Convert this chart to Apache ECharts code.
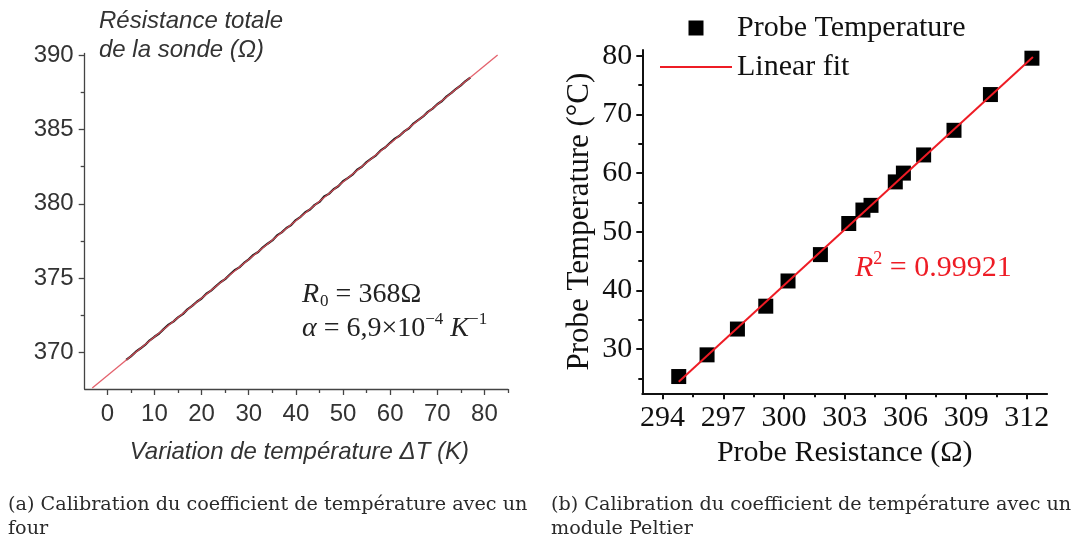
<!DOCTYPE html>
<html><head><meta charset="utf-8">
<script src="https://cdn.jsdelivr.net/npm/echarts@6/dist/echarts.min.js"></script>
<style>html,body{margin:0;padding:0;background:#fff}#c{width:1075px;height:542px}</style>
</head><body><div id="c"></div>
<script>
// ---------- (a) oven calibration ----------
const ovenDeltaT = [4,5,6,7,8,9,10,11,12,13,14,15,16,17,18,19,20,21,22,23,24,25,26,27,28,29,30,31,32,33,34,35,36,37,38,39,40,41,42,43,44,45,46,47,48,49,50,51,52,53,54,55,56,57,58,59,60,61,62,63,64,65,66,67,68,69,70,71,72,73,74,75,76,77];
const ovenResistance = [369.52,369.75,370.05,370.28,370.52,370.83,371.07,371.29,371.60,371.88,372.09,372.37,372.59,372.91,373.14,373.42,373.64,373.96,374.17,374.45,374.73,374.94,375.25,375.54,375.73,376.03,376.27,376.57,376.76,377.08,377.32,377.54,377.88,378.08,378.38,378.57,378.91,379.13,379.44,379.62,379.93,380.13,380.49,380.67,380.98,381.18,381.52,381.73,381.96,382.29,382.49,382.80,383.03,383.26,383.59,383.80,384.10,384.38,384.57,384.87,385.08,385.41,385.64,385.87,386.18,386.40,386.69,386.91,387.22,387.45,387.73,387.96,388.25,388.48];
const ovenFitDeltaT = [-3.2, 82.8];
const ovenFitResistance = [367.63, 390.0];
const ovenXTicks = [0,10,20,30,40,50,60,70,80];
const ovenXMinor = [5,15,25,35,45,55,65,75,85];
const ovenYTicks = [370,375,380,385,390];
const ovenYMinor = [372.5,377.5,382.5,387.5];

// ---------- (b) Peltier calibration ----------
const probeResistance = [294.8,296.2,297.7,299.1,300.2,301.8,303.2,303.9,304.3,305.5,305.9,306.9,308.4,310.2,312.25];
const probeTemperature = [25.3,29.0,33.4,37.3,41.6,46.1,51.4,53.7,54.5,58.5,60.0,63.1,67.3,73.4,79.6];
const fitResistance = [294.8, 312.3];
const fitTemperature = [24.4, 79.8];
const probeXTicks = [294,297,300,303,306,309,312];
const probeXMinor = [295.5,298.5,301.5,304.5,307.5,310.5];
const probeYTicks = [30,40,50,60,70,80];
const probeYMinor = [25,35,45,55,65,75];

const SANS = 'Liberation Sans';
const SERIF = 'Liberation Serif';
const RED = '#ee1c25';

function mainAxis(gridIndex, min, max, ticks, pos, style) {
  return {
    type: 'value', gridIndex, min, max, position: pos,
    axisLine: { show: true, onZero: false, lineStyle: { color: style.color, width: style.width } },
    axisTick: { show: true, inside: false, length: 6, customValues: ticks, lineStyle: { color: style.color, width: style.width } },
    axisLabel: { show: true, customValues: ticks, margin: style.margin, color: style.labelColor, fontFamily: style.font, fontSize: style.size },
    splitLine: { show: false }
  };
}
function minorAxis(gridIndex, min, max, ticks, pos, style) {
  return {
    type: 'value', gridIndex, min, max, position: pos,
    axisLine: { show: false, onZero: false },
    axisTick: { show: true, inside: false, length: 4, customValues: ticks, lineStyle: { color: style.color, width: style.width } },
    axisLabel: { show: false },
    splitLine: { show: false }
  };
}
const leftStyleX = { color: '#444', width: 1.3, margin: 13, labelColor: '#333', font: SANS, size: 24 };
const leftStyleY = { color: '#444', width: 1.3, margin: 11, labelColor: '#333', font: SANS, size: 24 };
const rightStyleX = { color: '#111', width: 2, margin: 10, labelColor: '#111', font: SERIF, size: 30 };
const rightStyleY = { color: '#111', width: 2, margin: 10, labelColor: '#111', font: SERIF, size: 30 };

const xA0 = mainAxis(0, -4.8, 85, ovenXTicks, 'bottom', leftStyleX);
xA0.name = 'Variation de température ΔT (K)';
xA0.nameLocation = 'middle';
xA0.nameGap = 51;
xA0.nameTextStyle = { fontFamily: SANS, fontStyle: 'italic', fontSize: 24, color: '#333', padding: [0, 0, 0, 6] };
const xA2 = mainAxis(1, 293, 313, probeXTicks, 'bottom', rightStyleX);
xA2.name = 'Probe Resistance (Ω)';
xA2.nameLocation = 'middle';
xA2.nameGap = 43;
xA2.nameTextStyle = { fontFamily: SERIF, fontSize: 30, color: '#111' };
const yA2 = mainAxis(1, 22.44, 81, probeYTicks, 'left', rightStyleY);
yA2.name = 'Probe Temperature (°C)';
yA2.nameLocation = 'middle';
yA2.nameGap = 47;
yA2.nameTextStyle = { fontFamily: SERIF, fontSize: 31, color: '#111' };

const option = {
  animation: false,
  backgroundColor: '#fff',
  grid: [
    { left: 84.7, top: 53.5, width: 423.3, height: 335.5 },
    { left: 642.3, top: 50, width: 404.8, height: 343.3 }
  ],
  xAxis: [
    xA0,
    minorAxis(0, -4.8, 85, ovenXMinor, 'bottom', leftStyleX),
    xA2,
    minorAxis(1, 293, 313, probeXMinor, 'bottom', rightStyleX)
  ],
  yAxis: [
    mainAxis(0, 367.56, 390.1, ovenYTicks, 'left', leftStyleY),
    minorAxis(0, 367.56, 390.1, ovenYMinor, 'left', leftStyleY),
    yA2,
    minorAxis(1, 22.44, 81, probeYMinor, 'left', rightStyleY)
  ],
  legend: {
    orient: 'vertical', left: 655, top: 8,
    itemWidth: 72, itemHeight: 15, itemGap: 9,
    textStyle: { fontFamily: SERIF, fontSize: 30, color: '#111', lineHeight: 30 },
    data: [
      { name: 'Probe Temperature', icon: 'path://M0,0H10V10H0Z' },
      { name: 'Linear fit', icon: 'path://M0,0H72V2H0Z' }
    ]
  },
  series: [
    {
      name: 'Mesure four', type: 'line', xAxisIndex: 0, yAxisIndex: 0,
      data: ovenDeltaT.map((x, i) => [x, ovenResistance[i]]),
      showSymbol: false, symbol: 'none',
      lineStyle: { color: '#1c1c1c', width: 2.2 }, z: 2
    },
    {
      name: 'Ajustement four', type: 'line', xAxisIndex: 0, yAxisIndex: 0,
      data: ovenFitDeltaT.map((x, i) => [x, ovenFitResistance[i]]),
      showSymbol: false, symbol: 'none',
      lineStyle: { color: '#e0505c', width: 1.3, opacity: 0.9 }, z: 3
    },
    {
      name: 'Probe Temperature', type: 'scatter', xAxisIndex: 2, yAxisIndex: 2,
      data: probeResistance.map((x, i) => [x, probeTemperature[i]]),
      symbol: 'rect', symbolSize: 15,
      itemStyle: { color: '#000', opacity: 1 }, z: 2
    },
    {
      name: 'Linear fit', type: 'line', xAxisIndex: 2, yAxisIndex: 2,
      data: fitResistance.map((x, i) => [x, fitTemperature[i]]),
      showSymbol: false, symbol: 'none',
      lineStyle: { color: RED, width: 2 }, itemStyle: { color: RED }, z: 3
    }
  ],
  graphic: [
    {
      type: 'text', x: 99, y: 7,
      style: {
        text: 'Résistance totale\nde la sonde (Ω)',
        fontFamily: SANS, fontStyle: 'italic', fontSize: 24, lineHeight: 29,
        fill: '#333', align: 'left', verticalAlign: 'top'
      }
    },
    {
      type: 'text', x: 302, y: 295,
      style: {
        text: '{i|R}{sub|0}{n| = 368Ω}',
        fill: '#222', align: 'left', verticalAlign: 'middle',
        rich: {
          i: { fontFamily: SERIF, fontStyle: 'italic', fontSize: 28, fill: '#222' },
          sub: { fontFamily: SERIF, fontSize: 17, padding: [14, 0, 0, 1], fill: '#222' },
          n: { fontFamily: SERIF, fontSize: 28, fill: '#222' }
        }
      }
    },
    {
      type: 'text', x: 302, y: 329,
      style: {
        text: '{i|α}{n| = 6,9×10}{sup|−4}{i| K}{sup|−1}',
        fill: '#222', align: 'left', verticalAlign: 'middle',
        rich: {
          i: { fontFamily: SERIF, fontStyle: 'italic', fontSize: 28, fill: '#222' },
          sup: { fontFamily: SERIF, fontSize: 17, padding: [0, 0, 18, 0], fill: '#222' },
          n: { fontFamily: SERIF, fontSize: 28, fill: '#222' }
        }
      }
    },
    {
      type: 'text', x: 855, y: 268,
      style: {
        text: '{i|R}{sup|2}{n| = 0.99921}',
        fill: RED, align: 'left', verticalAlign: 'middle',
        rich: {
          i: { fontFamily: SERIF, fontStyle: 'italic', fontSize: 30, fill: RED },
          sup: { fontFamily: SERIF, fontSize: 18, padding: [0, 0, 18, 0], fill: RED },
          n: { fontFamily: SERIF, fontSize: 30, fill: RED }
        }
      }
    },
    {
      type: 'text', x: 8, y: 493,
      style: {
        text: '(a) Calibration du coefficient de température avec un\nfour',
        fontFamily: 'DejaVu Serif', fontSize: 19.2, lineHeight: 24, fill: '#2a2a2a',
        align: 'left', verticalAlign: 'top'
      }
    },
    {
      type: 'text', x: 551, y: 493,
      style: {
        text: '(b) Calibration du coefficient de température avec un\nmodule Peltier',
        fontFamily: 'DejaVu Serif', fontSize: 19.2, lineHeight: 24, fill: '#2a2a2a',
        align: 'left', verticalAlign: 'top'
      }
    }
  ]
};
const chart = echarts.init(document.getElementById('c'), null, { renderer: 'canvas' });
chart.setOption(option);
</script>
</body></html>
